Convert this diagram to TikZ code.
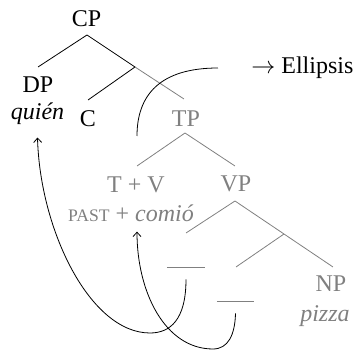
\documentclass[tikz,border=0pt]{standalone}
\usepackage{fontspec}
\setmainfont{Liberation Serif}
\usetikzlibrary{arrows.meta}
\begin{document}
\begin{tikzpicture}[x=0.5pt,y=-0.5pt,
  font=\fontsize{12}{14}\selectfont,
  lbl/.style={inner sep=0pt, anchor=base},
  grey/.style={color=gray},
  tracebar/.style={inner sep=0pt, text=gray},
  mv/.style={-{Straight Barb[length=2.2pt,width=4pt]}}]
\useasboundingbox (0,0) rectangle (360,352);
% labels
\node[lbl] (cp) at (86.5,27) {CP};
\node[lbl] (dp) at (38,93) {DP};
\node[lbl] (quien) at (37.5,120) {\itshape quién};
\node[lbl] (c) at (88,127) {C};
\node[lbl,grey] (tp) at (186,127) {TP};
\node[lbl,grey] (tv) at (136,193) {T + V};
\node[lbl,grey] (vp) at (236,192) {VP};
\node[lbl,grey] (past) at (131,222) {{\fontsize{8.8}{10}\selectfont PAST} + \textit{comió}};
\node[lbl,grey] (np) at (331,292) {NP};
\node[lbl,grey] (pizza) at (325,322) {\itshape pizza};
\node[inner sep=0pt, anchor=base west] (ell) at (251,74) {$\rightarrow$ Ellipsis};
\node[tracebar] (t1) at (186,267) {\rule{19pt}{0.4pt}};
\node[tracebar] (t2) at (235.5,301) {\rule{18.5pt}{0.4pt}};
% branch points
\coordinate (cpb) at (87,35);
\coordinate (dpt) at (38,67);
\coordinate (j1) at (135,67);
\coordinate (ct) at (88,100);
\coordinate (tpt) at (184,99);
\coordinate (tpb) at (185,133);
\coordinate (tvt) at (137,166);
\coordinate (vpt) at (235,166);
\coordinate (vpb) at (235,201);
\coordinate (v1) at (186,233);
\coordinate (j2) at (284,234);
\coordinate (v2) at (236,267);
\coordinate (npt) at (333,267);
% tree
\draw (cpb) -- (dpt);
\draw (cpb) -- (j1) -- (ct);
\draw[grey] (j1) -- (tpt);
\draw[grey] (tvt) -- (tpb) -- (vpt);
\draw[grey] (v1) -- (vpb) -- (npt);
\draw[grey] (j2) -- (v2);
% ellipsis boundary
\coordinate (e0) at (137,136);
\coordinate (e1) at (218,68);
\draw (e0) .. controls (137,95) and (160,68) .. (e1);
% movement arrows
\coordinate (b1) at (150,333);
\coordinate (b2) at (213,349);
\draw[mv] ([yshift=-5.5pt]t1.south) .. controls (186,320) and (170,333) .. (b1)
  .. controls (90,333) and (40,230) .. ([yshift=-6pt]quien.south);
\draw[mv] ([yshift=-5.5pt]t2.south) .. controls (235,335) and (228,349) .. (b2)
  .. controls (165,349) and (137,292) .. ([xshift=3pt,yshift=-4.5pt]past.south);
\end{tikzpicture}
\end{document}
